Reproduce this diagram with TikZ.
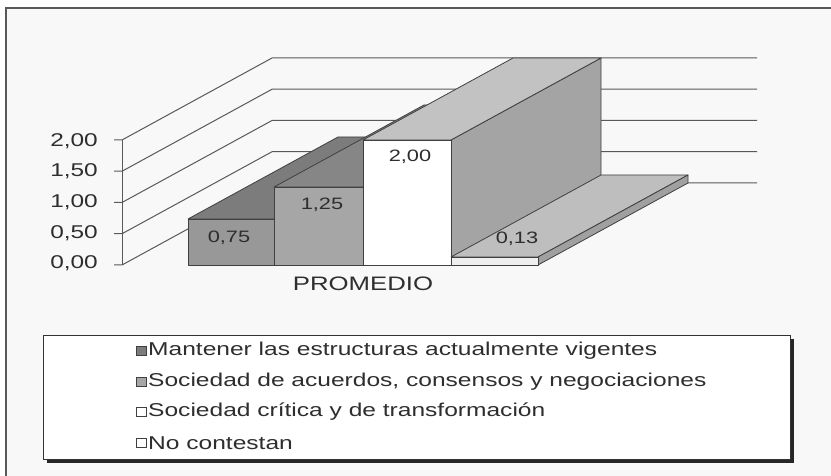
\documentclass[tikz,border=0pt]{standalone}
\usepackage{fontspec}
\setmainfont{Liberation Sans}
\newfontfamily\cf[FakeStretch=1.32]{Liberation Sans}
\definecolor{barA}{HTML}{989898}
\definecolor{barAtop}{HTML}{7C7C7C}
\definecolor{barB}{HTML}{A6A6A6}
\definecolor{barBtop}{HTML}{868686}
\definecolor{barCtop}{HTML}{C2C2C2}
\definecolor{barCside}{HTML}{A4A4A4}
\definecolor{barD}{HTML}{EFEFEF}
\definecolor{barDtop}{HTML}{BEBEBE}
\definecolor{barDside}{HTML}{A0A0A0}
\definecolor{bgc}{HTML}{F8F8F8}
\definecolor{txt}{HTML}{2E2E2E}
\begin{document}
\begin{tikzpicture}[x=1pt,y=-1pt,
  edge/.style={draw=black!75, line width=0.8pt, line join=round},
  gridln/.style={draw=black!65, line width=1pt},
  ylbl/.style={font=\cf\fontsize{18.5}{20}\selectfont, text=txt, inner sep=0pt, anchor=east},
  val/.style={font=\cf\fontsize{16.5}{18}\selectfont, text=txt, inner sep=0pt},
  leg/.style={font=\cf\fontsize{18.6}{20}\selectfont, text=txt, anchor=west, inner sep=0pt},
  sw/.style={draw=black!75, line width=0.7pt, minimum width=10pt, minimum height=8.5pt, inner sep=0pt}]
\useasboundingbox (0,0) rectangle (831,476);
\fill[white] (0,0) rectangle (831,476);
\fill[bgc] (6,8) rectangle (831,476);
\draw[black!65, line width=1.5pt] (6,476) -- (6,8) -- (831,8);
% grid
\foreach \i in {0,...,4} {
  \pgfmathsetmacro\yy{265-31.25*\i}
  \draw[gridln] (114,\yy) -- (122,\yy) -- ++(150,-82) -- (757,{\yy-82});
}
\draw[gridln] (122,265) -- (122,140);
% y labels
\node[ylbl] (y0) at (98,263) {0,00};
\node[ylbl] (y1) at (98,233) {0,50};
\node[ylbl] (y2) at (98,202) {1,00};
\node[ylbl] (y3) at (98,171) {1,50};
\node[ylbl] (y4) at (98,141) {2,00};
% bar 1
\filldraw[edge, fill=barAtop] (188,219) -- (274,219) -- (424,137) -- (338,137) -- cycle;
\filldraw[edge, fill=barA] (188,219) rectangle (274,265);
% bar 2
\filldraw[edge, fill=barBtop] (274,187) -- (363,187) -- (513,105) -- (424,105) -- cycle;
\filldraw[edge, fill=barB] (274,187) rectangle (363,265);
% bar 3
\filldraw[edge, fill=barCside] (451,140) -- (601,58) -- (601,183) -- (451,265) -- cycle;
\filldraw[edge, fill=barCtop] (363,140) -- (451,140) -- (601,58) -- (513,58) -- cycle;
\filldraw[edge, fill=white] (363,140) rectangle (451,265);
% bar 4
\filldraw[edge, fill=barDtop] (451,257) -- (538,257) -- (688,175) -- (601,175) -- cycle;
\filldraw[edge, fill=barDside] (538,257) -- (688,175) -- (688,183) -- (538,265) -- cycle;
\filldraw[edge, fill=barD] (451,257) rectangle (538,265);
% values
\node[val] (v1) at (229,238) {0,75};
\node[val] (v2) at (322,205) {1,25};
\node[val] (v3) at (410,157) {2,00};
\node[val] (v4) at (517,239) {0,13};
\node[font=\cf\fontsize{19.5}{21}\selectfont, text=txt, inner sep=0pt] (cat) at (363,284) {PROMEDIO};
% legend
\fill[black!85] (47,339) rectangle (794,463);
\filldraw[draw=black!80, fill=white, line width=0.8pt] (43,335) rectangle (790,459);
\node[sw, fill=barAtop] (s1) at (141,351) {};
\node[sw, fill=barB] (s2) at (141,382) {};
\node[sw, fill=white] (s3) at (141,412) {};
\node[sw, fill=white] (s4) at (141,443) {};
\node[leg] (l1) at (148,351) {Mantener las estructuras actualmente vigentes};
\node[leg] (l2) at (148,382) {Sociedad de acuerdos, consensos y negociaciones};
\node[leg] (l3) at (148,412) {Sociedad crítica y de transformación};
\node[leg] (l4) at (148,443) {No contestan};
\end{tikzpicture}
\end{document}
